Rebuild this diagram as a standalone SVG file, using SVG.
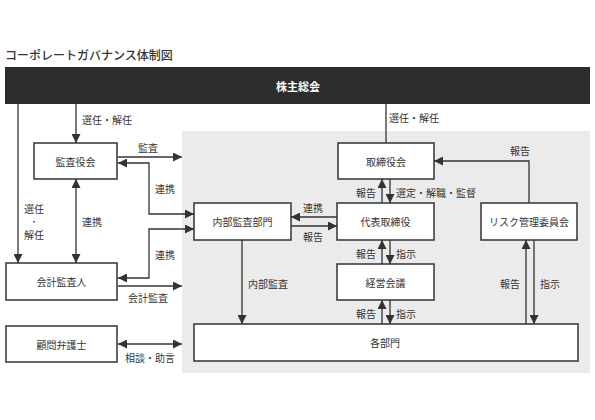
<svg xmlns="http://www.w3.org/2000/svg" width="595" height="420" viewBox="0 0 595 420">
<defs>
<style>
text{font-family:"Noto Sans CJK JP","Noto Sans",sans-serif;font-size:10px;fill:#333;dominant-baseline:central}
.box{fill:#fff;stroke:#333;stroke-width:1.5}
.c{text-anchor:middle}
.e{text-anchor:end}
.ln{fill:none;stroke:#333;stroke-width:1.3}
.a{marker-end:url(#ah)}
.b{marker-start:url(#ah);marker-end:url(#ah)}
</style>
<marker id="ah" markerUnits="userSpaceOnUse" markerWidth="9" markerHeight="9" viewBox="0 0 8 8" refX="8" refY="4" orient="auto-start-reverse">
<path d="M0,0 L8,4 L0,8 z" fill="#333"/>
</marker>
</defs>
<rect width="595" height="420" fill="#fff"/>
<text x="5" y="54" style="font-size:12px;font-weight:500">コーポレートガバナンス体制図</text>
<rect x="182" y="131" width="408" height="242" fill="#ebebeb"/>

<g id="shareholders">
<rect x="5" y="67" width="585" height="37" fill="#2d2d2d"/>
<text class="c" x="298" y="86" style="fill:#fff;font-weight:bold;font-size:11px">株主総会</text>
</g>

<g id="connectors">
<path class="ln a" d="M18,104 V263"/>
<path class="ln a" d="M76,104 V143"/>
<path class="ln b" d="M76,179 V263"/>
<path class="ln a" d="M118,157 H182"/>
<path class="ln b" d="M118,163 H149 V214 H194"/>
<path class="ln b" d="M118,278 H149 V229 H194"/>
<path class="ln a" d="M118,286 H182"/>
<path class="ln b" d="M118,344 H182"/>
<path class="ln" d="M386,104 V143"/>
<path class="ln a" d="M382,203 V179"/>
<path class="ln a" d="M390,179 V203"/>
<path class="ln a" d="M337,217 H291"/>
<path class="ln a" d="M291,226 H337"/>
<path class="ln a" d="M382,264 V240"/>
<path class="ln a" d="M390,240 V264"/>
<path class="ln a" d="M382,324 V300"/>
<path class="ln a" d="M390,300 V324"/>
<path class="ln a" d="M242,240 V324"/>
<path class="ln a" d="M529,203 V161 H434"/>
<path class="ln a" d="M526,324 V240"/>
<path class="ln a" d="M534,240 V324"/>
<text x="82" y="119">選任・解任</text>
<text x="389" y="117">選任・解任</text>
<text class="c" x="34" y="208">選任</text>
<text class="c" x="34" y="221" style="font-size:8px">・</text>
<text class="c" x="34" y="234">解任</text>
<text x="82" y="221">連携</text>
<text x="138" y="147">監査</text>
<text x="155" y="188">連携</text>
<text x="155" y="254">連携</text>
<text x="128" y="297">会計監査</text>
<text x="125" y="357">相談・助言</text>
<text x="303" y="207">連携</text>
<text x="303" y="236">報告</text>
<text class="e" x="376" y="192">報告</text>
<text x="396" y="192">選定・解職・監督</text>
<text class="e" x="376" y="253">報告</text>
<text x="396" y="253">指示</text>
<text class="e" x="376" y="313">報告</text>
<text x="396" y="313">指示</text>
<text x="248" y="283">内部監査</text>
<text x="510" y="150">報告</text>
<text class="e" x="520" y="283">報告</text>
<text x="540" y="283">指示</text>
</g>

<g id="kansayakukai"><rect class="box" x="34" y="143" width="83" height="36"/><text class="c" x="75.5" y="161">監査役会</text></g>
<g id="kaikeikansanin"><rect class="box" x="6" y="263" width="111" height="37"/><text class="c" x="61.5" y="281.5">会計監査人</text></g>
<g id="komonbengoshi"><rect class="box" x="6" y="326" width="111" height="36"/><text class="c" x="61.5" y="344">顧問弁護士</text></g>
<g id="naibukansabumon"><rect class="box" x="194" y="203" width="97" height="37"/><text class="c" x="242.5" y="221.5">内部監査部門</text></g>
<g id="torishimariyakukai"><rect class="box" x="338" y="143" width="96" height="36"/><text class="c" x="386" y="161">取締役会</text></g>
<g id="daihyotorishimariyaku"><rect class="box" x="337" y="203" width="97" height="37"/><text class="c" x="385.5" y="221.5">代表取締役</text></g>
<g id="keieikaigi"><rect class="box" x="337" y="264" width="97" height="36"/><text class="c" x="385.5" y="282">経営会議</text></g>
<g id="risk"><rect class="box" x="481" y="203" width="96" height="37"/><text class="c" x="529" y="221.5">リスク管理委員会</text></g>
<g id="kakubumon"><rect class="box" x="194" y="324" width="384" height="37"/><text class="c" x="385" y="342.5">各部門</text></g>
</svg>
